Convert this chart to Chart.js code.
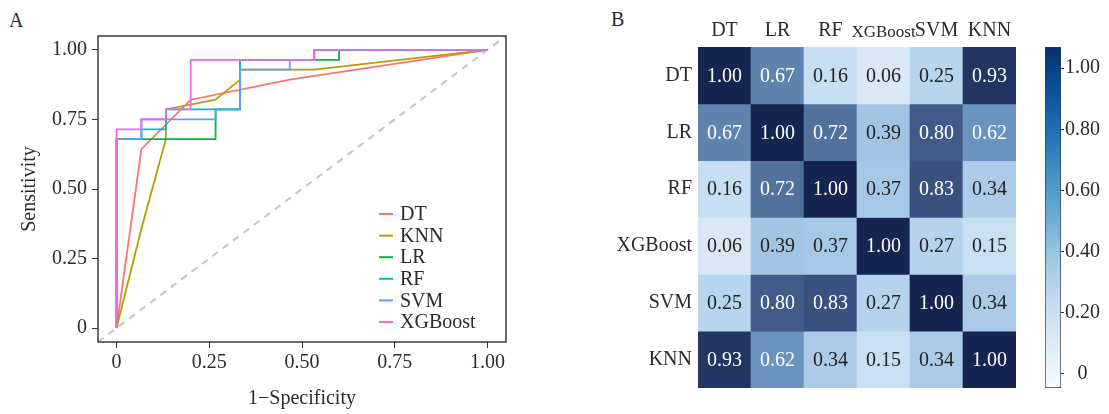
<!DOCTYPE html>
<html>
<head>
<meta charset="utf-8">
<script src="https://cdn.jsdelivr.net/npm/chart.js@4"></script>
<style>
  body { margin: 0; background: #fff; }
  #wrap { position: relative; width: 1109px; height: 414px; overflow: hidden; font-family: "Liberation Serif", serif; color: #2b2b2b; }
  canvas { position: absolute; top: 0; }
  .tag { position: absolute; font-size: 20px; line-height: 20px; }
</style>
</head>
<body>
<div id="wrap">
  <div class="tag" style="left:9px;top:10px">A</div>
  <div class="tag" style="left:611px;top:9px">B</div>
  <canvas id="roc" width="520" height="414" style="left:0"></canvas>
  <canvas id="heat" width="440" height="414" style="left:590px"></canvas>
  <canvas id="cbar" width="79" height="414" style="left:1030px"></canvas>
</div>
<script>
// ROC curves (panel A)
const models = ['DT', 'KNN', 'LR', 'RF', 'SVM', 'XGBoost'];
const modelColors = ['#F8766D', '#B79F00', '#00BA38', '#00BFC4', '#619CFF', '#F564E3'];

const fprDT = [0, 0.067, 0.2, 0.467, 1];
const tprDT = [0, 0.643, 0.821, 0.893, 1];
const fprKNN = [0, 0.067, 0.133, 0.133, 0.267, 0.333, 0.333, 0.533, 1];
const tprKNN = [0, 0.357, 0.679, 0.786, 0.821, 0.893, 0.929, 0.929, 1];
const fprLR = [0, 0, 0.267, 0.267, 0.333, 0.333, 0.6, 0.6, 1];
const tprLR = [0, 0.679, 0.679, 0.786, 0.786, 0.964, 0.964, 1, 1];
const fprRF = [0, 0, 0.067, 0.067, 0.133, 0.133, 0.333, 0.333, 0.533, 0.533, 1];
const tprRF = [0, 0.679, 0.679, 0.714, 0.714, 0.786, 0.786, 0.964, 0.964, 1, 1];
const fprSVM = [0, 0, 0.067, 0.067, 0.267, 0.267, 0.333, 0.333, 0.467, 0.467, 0.533, 0.533, 1];
const tprSVM = [0, 0.679, 0.679, 0.75, 0.75, 0.786, 0.786, 0.929, 0.929, 0.964, 0.964, 1, 1];
const fprXGB = [0, 0, 0.067, 0.067, 0.133, 0.133, 0.2, 0.2, 0.533, 0.533, 1];
const tprXGB = [0, 0.714, 0.714, 0.75, 0.75, 0.786, 0.786, 0.964, 0.964, 1, 1];

const rocTicks = [0, 0.25, 0.5, 0.75, 1];

// correlation matrix (panel B)
const heatCols = ['DT', 'LR', 'RF', 'XGBoost', 'SVM', 'KNN'];
const heatRows = ['DT', 'LR', 'RF', 'XGBoost', 'SVM', 'KNN'];
const rowDT  = [1.00, 0.67, 0.16, 0.06, 0.25, 0.93];
const rowLR  = [0.67, 1.00, 0.72, 0.39, 0.80, 0.62];
const rowRF  = [0.16, 0.72, 1.00, 0.37, 0.83, 0.34];
const rowXGB = [0.06, 0.39, 0.37, 1.00, 0.27, 0.15];
const rowSVM = [0.25, 0.80, 0.83, 0.27, 1.00, 0.34];
const rowKNN = [0.93, 0.62, 0.34, 0.15, 0.34, 1.00];
const heatVals = [rowDT, rowLR, rowRF, rowXGB, rowSVM, rowKNN];

const cbTicks = [0, 0.2, 0.4, 0.6, 0.8, 1.0];
const cbMin = -0.046, cbMax = 1.069;

Chart.defaults.font.family = '"Liberation Serif", serif';
Chart.defaults.font.size = 20;
Chart.defaults.color = '#2b2b2b';
Chart.defaults.animation = false;
Chart.defaults.plugins.legend.display = false;
Chart.defaults.plugins.tooltip.enabled = false;

const toPts = (xs, ys) => xs.map((x, i) => ({ x, y: ys[i] }));
const rocData = [[fprDT, tprDT], [fprKNN, tprKNN], [fprLR, tprLR], [fprRF, tprRF], [fprSVM, tprSVM], [fprXGB, tprXGB]];

const frame = {
  id: 'frame',
  afterDraw(chart) {
    const { ctx, chartArea: a } = chart;
    ctx.save();
    ctx.strokeStyle = '#1e1e1e';
    ctx.lineWidth = 1.3;
    ctx.strokeRect(a.left, a.top, a.right - a.left, a.bottom - a.top);
    ctx.restore();
  }
};

const rocLegend = {
  id: 'rocLegend',
  afterDatasetsDraw(chart) {
    const { ctx, chartArea: a } = chart;
    ctx.save();
    ctx.font = '20px "Liberation Serif"';
    ctx.textBaseline = 'middle';
    models.forEach((m, i) => {
      const x = a.left + 281;
      const y = a.bottom - 128 + i * 21.6;
      ctx.strokeStyle = modelColors[i];
      ctx.lineWidth = 2;
      ctx.beginPath();
      ctx.moveTo(x, y);
      ctx.lineTo(x + 14, y);
      ctx.stroke();
      ctx.fillStyle = '#2b2b2b';
      ctx.fillText(m, x + 21, y + 1);
    });
    ctx.restore();
  }
};

new Chart(document.getElementById('roc'), {
  type: 'scatter',
  data: {
    datasets: [
      {
        label: 'ref',
        data: [{ x: -0.05, y: -0.05 }, { x: 1.05, y: 1.05 }],
        showLine: true, borderColor: '#c4c4c4', borderWidth: 2, borderDash: [7, 6],
        pointRadius: 0, order: 10
      },
      ...models.map((m, i) => ({
        label: m,
        data: toPts(rocData[i][0], rocData[i][1]),
        showLine: true, borderColor: modelColors[i], borderWidth: 1.8,
        pointRadius: 0, tension: 0, order: models.length - i
      }))
    ]
  },
  options: {
    responsive: false,
    layout: { padding: { left: 18, right: 14, top: 36, bottom: 0 } },
    scales: {
      x: {
        type: 'linear', min: -0.05, max: 1.05,
        afterBuildTicks: s => { s.ticks = rocTicks.map(v => ({ value: v })); },
        afterFit: s => { s.height = 72; },
        ticks: { callback: v => v === 0 ? '0' : v.toFixed(2), padding: 3, maxRotation: 0 },
        grid: { drawOnChartArea: false, tickLength: 6, tickColor: '#333' },
        border: { display: false },
        title: { display: true, text: '1\u2212Specificity', padding: { top: 0, bottom: 3 } }
      },
      y: {
        type: 'linear', min: -0.05, max: 1.05,
        afterBuildTicks: s => { s.ticks = rocTicks.map(v => ({ value: v })); },
        afterFit: s => { s.width = 80; },
        ticks: { callback: v => v === 0 ? '0' : v.toFixed(2), padding: 5 },
        grid: { drawOnChartArea: false, tickLength: 6, tickColor: '#333' },
        border: { display: false },
        title: { display: true, text: 'Sensitivity', padding: 0 }
      }
    }
  },
  plugins: [frame, rocLegend]
});

// cell colours
const cellStops = [
  [0.00, [228, 238, 248]], [0.06, [218, 232, 245]], [0.16, [200, 222, 242]],
  [0.26, [182, 212, 238]], [0.38, [165, 199, 230]], [0.62, [106, 147, 191]],
  [0.67, [94, 132, 174]], [0.72, [82, 114, 158]], [0.81, [62, 88, 134]],
  [0.93, [36, 53, 99]], [1.00, [21, 37, 79]]
];
function cellColor(v) {
  for (let k = 1; k < cellStops.length; k++) {
    const [v1, c1] = cellStops[k];
    const [v0, c0] = cellStops[k - 1];
    if (v <= v1) {
      const t = (v - v0) / (v1 - v0);
      const c = c0.map((x, n) => Math.round(x + (c1[n] - x) * t));
      return `rgb(${c[0]},${c[1]},${c[2]})`;
    }
  }
  return 'rgb(21,37,79)';
}

const cellText = {
  id: 'cellText',
  afterDatasetsDraw(chart) {
    const { ctx } = chart;
    ctx.save();
    ctx.font = '20px "Liberation Serif"';
    ctx.textAlign = 'center';
    ctx.textBaseline = 'middle';
    heatRows.forEach((r, i) => {
      chart.getDatasetMeta(i).data.forEach((el, j) => {
        const v = heatVals[i][j];
        ctx.fillStyle = v > 0.5 ? '#ffffff' : '#222222';
        ctx.fillText(v.toFixed(2), el.x, (el.y + el.base) / 2 + 1);
      });
    });
    ctx.restore();
  }
};

new Chart(document.getElementById('heat'), {
  type: 'bar',
  data: {
    labels: heatCols,
    datasets: heatRows.map((r, i) => ({
      label: r,
      data: heatCols.map(() => [i, i + 1]),
      backgroundColor: heatVals[i].map(cellColor),
      borderWidth: 0,
      grouped: false,
      barPercentage: 1,
      categoryPercentage: 1
    }))
  },
  options: {
    responsive: false,
    layout: { padding: { left: 0, right: 14, top: 0, bottom: 26 } },
    scales: {
      x: {
        position: 'top',
        afterFit: s => { s.height = 47; },
        ticks: {
          padding: 4, maxRotation: 0, autoSkip: false,
          font: c => ({ size: c.tick && c.tick.label === 'XGBoost' ? 17 : 20 })
        },
        grid: { display: false, drawTicks: false, tickLength: 0 },
        border: { display: false }
      },
      y: {
        type: 'linear', min: 0, max: 6, reverse: true,
        afterBuildTicks: s => { s.ticks = heatRows.map((r, i) => ({ value: i + 0.5 })); },
        afterFit: s => { s.width = 108; },
        ticks: { callback: v => heatRows[Math.floor(v)], padding: 6 },
        grid: { display: false, drawTicks: false, tickLength: 0 },
        border: { display: false }
      }
    }
  },
  plugins: [cellText]
});

// colour bar
const blues = ['#f7fbff', '#deebf7', '#c6dbef', '#9ecae1', '#6baed6', '#4292c6', '#2171b5', '#08519c', '#08306b'];
new Chart(document.getElementById('cbar'), {
  type: 'bar',
  data: {
    labels: [''],
    datasets: [{
      data: [[cbMin, cbMax]],
      backgroundColor: ctx => {
        const a = ctx.chart.chartArea;
        if (!a) return blues[4];
        const g = ctx.chart.ctx.createLinearGradient(0, a.bottom, 0, a.top);
        blues.forEach((c, k) => g.addColorStop(k / (blues.length - 1), c));
        return g;
      },
      borderColor: '#3a3a3a',
      borderWidth: 1,
      borderSkipped: false,
      barPercentage: 1,
      categoryPercentage: 1
    }]
  },
  options: {
    responsive: false,
    layout: { padding: { left: 15, right: 0, top: 47, bottom: 26 } },
    scales: {
      x: { display: false },
      y: {
        position: 'right', min: cbMin, max: cbMax,
        afterBuildTicks: s => { s.ticks = cbTicks.map(v => ({ value: v })); },
        afterFit: s => { s.width = 48; },
        ticks: { callback: v => v === 0 ? '0' : v.toFixed(2), padding: 1, crossAlign: 'center' },
        grid: { drawOnChartArea: false, tickLength: 3, tickColor: '#333' },
        border: { display: false }
      }
    }
  }
});
</script>
</body>
</html>
